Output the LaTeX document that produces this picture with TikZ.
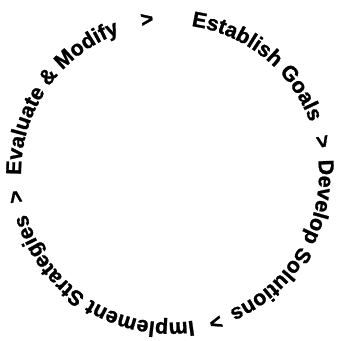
\documentclass[tikz,border=0pt]{standalone}
\usepackage{fontspec}
\setmainfont{Liberation Sans}
\newfontfamily\ringfont[FakeBold=1.2]{Liberation Sans Bold}
\usetikzlibrary{decorations.text}
\tikzset{
  ring text/.style={decorate, decoration={text along path, text={#1}}}
}
\begin{document}
\begin{tikzpicture}[x=1pt,y=1pt]
\useasboundingbox (0,0) rectangle (339,341);
\ringfont\fontsize{21.4}{25}\selectfont
\begin{scope}[shift={(170,167.5)}]
% Phases around the cycle (clockwise)
\path[ring text={Establish Goals}] (81.8:149pt) arc[start angle=81.8, end angle=-20, radius=149pt];
\path[ring text={>}] (14.2:149pt) arc[start angle=14.2, end angle=-20, radius=149pt];
\path[ring text={Develop Solutions}] (5.2:149pt) arc[start angle=5.2, end angle=-100, radius=149pt];
\path[ring text={>}] (-70.5:149pt) arc[start angle=-70.5, end angle=-100, radius=149pt];
\path[ring text={Implement Strategies}] (-81:149pt) arc[start angle=-81, end angle=-190, radius=149pt];
\path[ring text={>}] (191:149pt) arc[start angle=191, end angle=160, radius=149pt];
\path[ring text={Evaluate {\&} Modify}] (180.6:149pt) arc[start angle=180.6, end angle=60, radius=149pt];
\path[ring text={>}] (100.9:149pt) arc[start angle=100.9, end angle=70, radius=149pt];
\end{scope}
\end{tikzpicture}
\end{document}
